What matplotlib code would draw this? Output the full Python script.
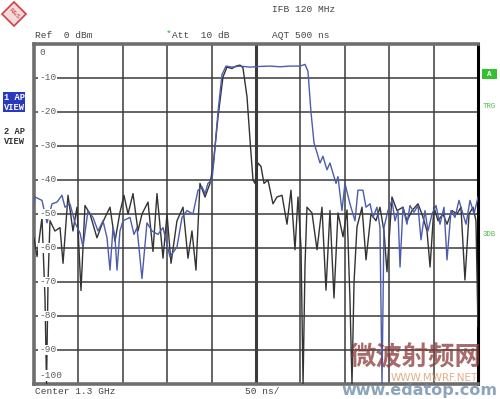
import matplotlib
matplotlib.use('Agg')
import matplotlib.pyplot as plt
from matplotlib.patches import Polygon, Rectangle

black_ns = [0, 3.4, 9, 12.4, 14.1, 15.8, 18, 23.6, 29.3, 32.7, 38.3, 43.9, 48.4, 52.9, 57.4,
            63.1, 70.9, 76.6, 80, 85.6, 91.2, 96.8, 101.3, 105.9, 111.5, 117.1, 121.6, 128.4,
            134, 138.5, 145.3, 149.8, 154.3, 161, 167.8, 173.4, 177.9, 182.4, 186.9, 192.6,
            198.2, 201.6, 207.2, 212.8, 217.3, 223, 227.5, 232, 235.3, 239.9, 243.2, 246.6,
            248.9, 252.2, 255.6, 259, 263.5, 269.1, 273.6, 279.3, 284.9, 289.4, 293.9, 297.3,
            300.7, 303, 305.2, 307.4, 313.1, 318.7, 324.3, 328.8, 333.3, 337.8, 342.3, 348,
            352.5, 355.8, 358.1, 360.4, 363.7, 369.4, 373.9, 379.5, 385.1, 389.6, 394.1, 397.5,
            403.1, 408.8, 415.5, 420, 425.7, 432.4, 436.9, 442.6, 446, 450.4, 455, 460.6,
            465.1, 470.7, 476.3, 480.8, 485.3, 489.9, 494.4, 497.7, 500]
black_db = [-57, -62.5, -51, -75, -100, -70, -52, -55, -54, -64.5, -44.5, -55, -48, -72.5, -47.5,
            -50, -57, -53, -51, -48, -58, -49.5, -44.5, -50, -44, -55, -50, -46.5,
            -61, -44, -63, -50, -64.5, -52, -48, -63, -55, -66.5, -41, -45,
            -41, -36, -21.5, -9.7, -6.8, -7.2, -6.5, -6.2, -7, -15.6, -28, -40,
            -41, -35, -36, -41, -40, -47, -45, -44.5, -53, -43, -60.5, -45,
            -60, -100, -65, -48, -49.7, -60.5, -48, -72.4, -49, -74.7, -49.7, -56.7,
            -48.8, -75, -100, -70, -53.8, -48, -63.5, -50, -52, -48, -55, -67,
            -45, -49, -48, -52, -49, -47, -50, -55, -65.6, -48, -52, -50,
            -53, -49, -50, -48, -69.4, -50, -48, -52, -83]

blue_ns = [0, 1.1, 9, 14.6, 20.3, 25.9, 31.5, 34.9, 40.5, 46.2, 51.8, 55.2, 60.8, 66.4, 72.1,
           77.7, 82.2, 85.6, 89, 91.2, 93.5, 96.8, 100.2, 108.1, 112.6, 116, 121.6, 127.2,
           132.9, 139.6, 145.3, 153.1, 161, 166.7, 172.3, 179, 184.7, 189.2, 192.6, 195.9,
           200.4, 202.7, 207.2, 211.7, 216.2, 223, 232, 243.2, 254.5, 265.8, 277, 288.3,
           299.5, 305.2, 308.5, 311.9, 315.3, 318.7, 322.1, 325.4, 329.9, 333.3, 336.7,
           340.1, 342.3, 346.8, 350.2, 355.8, 361.5, 364.8, 370.4, 373.9, 378.4, 381.8,
           386.2, 389.6, 391.9, 394.1, 398.6, 403.1, 406.5, 409.9, 412.2, 415.5, 420,
           423.4, 427.9, 432.4, 435.8, 440.3, 443.7, 448.2, 452.7, 457.2, 461.7, 465.1,
           469.6, 474.1, 478.6, 483.1, 486.5, 491, 495.5, 500]
blue_db = [-47, -45, -46, -52.6, -47, -46.5, -44.5, -48, -47, -52.6, -55.6, -59.7, -49, -51, -55,
           -52, -57, -66.5, -54, -56.8, -66.5, -55, -52, -51, -56, -54, -69, -52.6,
           -55, -56, -54, -62.6, -59.7, -51, -49, -50, -43, -42, -44, -41,
           -40, -34, -20, -9, -6.5, -6.8, -6.5, -6.8, -6.6, -6.5, -6.7, -6.5,
           -6.5, -6, -8, -20, -29, -32, -35, -33, -37, -35, -38,
           -41, -39, -49, -41, -47, -52, -43, -43, -48, -47, -51,
           -48, -54, -100, -54, -49, -46, -52, -49, -65.6, -48, -53,
           -47.5, -49.5, -47.5, -57.6, -49, -55, -50, -47.5, -53, -48, -63.5,
           -49, -51, -46, -50, -53, -46, -50, -45]

y_ticks = [0, -10, -20, -30, -40, -50, -60, -70, -80, -90, -100]

mono = 'Liberation Mono'
W, H = 500, 399


def fx(px):
    return px / W


def fy(py):
    return 1 - py / H


fig = plt.figure(figsize=(5, 3.99), dpi=100)
fig.patch.set_facecolor('white')
ax = fig.add_axes([fx(34), fy(384), fx(478) - fx(34), fy(44) - fy(384)])

ax.set_xlim(0, 500)
ax.set_ylim(-100, 0)
ax.set_xticks(range(0, 501, 50))
ax.set_yticks(y_ticks)
ax.tick_params(length=0, labelbottom=False, labelleft=False)
ax.grid(True, color='#3a3a3a', linewidth=1.1)
ax.axvline(250, color='#3a3a3a', linewidth=2.2)

# рамка
for side in ['left', 'top', 'bottom']:
    ax.spines[side].set_color('#6e6e6e')
    ax.spines[side].set_linewidth(2.6)
ax.spines['right'].set_color('black')
ax.spines['right'].set_linewidth(2.2)

# трассы
ax.plot(black_ns, black_db, color='#333333', linewidth=1.0, zorder=3)
ax.plot(blue_ns, blue_db, color='#4d5cac', linewidth=1.0, zorder=4)

# подписи уровней внутри поля
for v in y_ticks:
    yy = v
    if v == 0:
        yy = -2.4
    elif v == -100:
        yy = -97.6
    ax.text(6, yy, str(v), fontsize=6.8, family=mono, color='#606060', ha='left', va='center',
            bbox=dict(facecolor='white', edgecolor='none', pad=0.6), zorder=5)

# шапка
fig.text(fx(272), fy(10), 'IFB 120 MHz', fontsize=6.8, family=mono, color='#444444', va='center')
fig.text(fx(35), fy(35), 'Ref  0 dBm', fontsize=6.8, family=mono, color='#444444', va='center')
fig.text(fx(166), fy(34), '*', fontsize=6.8, family=mono, color='#30b030', va='center')
fig.text(fx(172), fy(35), 'Att  10 dB', fontsize=6.8, family=mono, color='#444444', va='center')
fig.text(fx(272), fy(35), 'AQT 500 ns', fontsize=6.8, family=mono, color='#444444', va='center')
fig.text(fx(35), fy(392), 'Center 1.3 GHz', fontsize=6.8, family=mono, color='#444444', va='center')
fig.text(fx(245), fy(392), '50 ns/', fontsize=6.8, family=mono, color='#444444', va='center')

# логотип R&S
fig.patches.append(Polygon([[fx(14), fy(2)], [fx(26), fy(14)], [fx(14), fy(26)], [fx(2), fy(14)]],
                           closed=True, transform=fig.transFigure, facecolor='#f6dada',
                           edgecolor='#d04040', linewidth=1.2))
fig.text(fx(14), fy(14), 'R&S', fontsize=4.5, family='DejaVu Sans', color='#c03030',
         ha='center', va='center', rotation=-45)

# левая панель
fig.patches.append(Rectangle((fx(3), fy(112)), fx(22), fy(92) - fy(112), transform=fig.transFigure,
                             facecolor='#2838c0', edgecolor='none'))
fig.text(fx(14), fy(97), '1 AP', fontsize=6.3, family=mono, color='white', ha='center', va='center',
         weight='bold')
fig.text(fx(14), fy(107), 'VIEW', fontsize=6.3, family=mono, color='white', ha='center', va='center',
         weight='bold')
fig.text(fx(14), fy(131), '2 AP', fontsize=6.3, family=mono, color='#333333', ha='center', va='center',
         weight='bold')
fig.text(fx(14), fy(142), 'VIEW', fontsize=6.3, family=mono, color='#333333', ha='center', va='center',
         weight='bold')

# правая панель
fig.patches.append(Rectangle((fx(482), fy(79)), fx(15), fy(69) - fy(79), transform=fig.transFigure,
                             facecolor='#33c033', edgecolor='none'))
fig.text(fx(489.5), fy(74), 'A', fontsize=5.5, family=mono, color='white', ha='center', va='center',
         weight='bold')
fig.text(fx(489), fy(106), 'TRG', fontsize=5.3, family=mono, color='#50c050', ha='center', va='center')
fig.text(fx(489), fy(235), '3DB', fontsize=5.3, family=mono, color='#50c050', ha='center', va='center')

# водяной знак
fig.text(fx(482), fy(358), '微波射频网', fontsize=19, family=['Noto Sans CJK SC', 'DejaVu Sans'],
         weight='bold', color='#8a3a3a', alpha=0.75, ha='right', va='center')
fig.text(fx(478), fy(378), 'WWW.MWRF.NET', fontsize=7.5, family='DejaVu Sans', color='#e0a070',
         alpha=0.85, ha='right', va='center')
fig.text(fx(497), fy(390), 'www.edatop.com', fontsize=11.5, family='DejaVu Sans', weight='bold',
         color='#6f8fae', alpha=0.8, ha='right', va='center')

plt.savefig('out.png', dpi=100)
